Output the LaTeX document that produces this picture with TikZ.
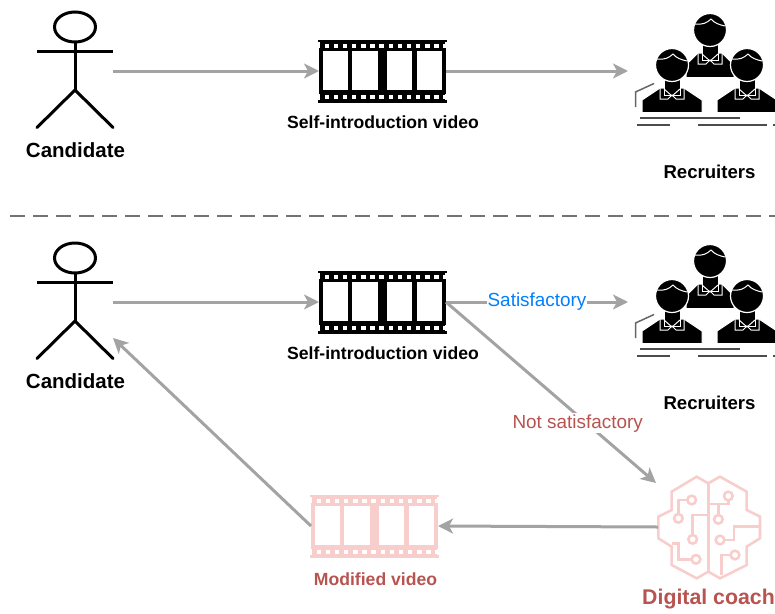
\documentclass[tikz,border=0pt]{standalone}
\usepackage{fontspec}
\setmainfont{Liberation Sans}
\usetikzlibrary{arrows.meta}
\definecolor{arrowgray}{HTML}{A3A3A3}
\definecolor{softred}{HTML}{F8CECC}
\definecolor{darkred}{HTML}{B85450}
\definecolor{bluetext}{HTML}{007FFF}
\tikzset{
  flow/.style={draw=arrowgray,line width=3pt,-{Stealth[length=15pt,width=15pt,inset=4pt]}},
  anchorbox/.style={inset sep=0pt,inner sep=0pt,outer sep=0pt,minimum width=#1},
  iconbox/.style n args={2}{inner sep=0pt,outer sep=0pt,minimum width=#1,minimum height=#2},
  labelbig/.style={font=\fontsize{20.5}{24}\selectfont\bfseries,inner sep=0pt},
  labelmid/.style={font=\fontsize{17.6}{21}\selectfont\bfseries,inner sep=0pt},
  labelrec/.style={font=\fontsize{18.6}{22}\selectfont\bfseries,inner sep=0pt},
  labelflow/.style={font=\fontsize{18.9}{22}\selectfont,fill=white,inner sep=1pt},
}
\newcommand{\actoricon}[1]{%
  \begin{scope}[shift={(0,#1)},line width=3pt,draw=black]
    \draw (75,27) ellipse (20.5 and 15);
    \draw (37,51) -- (113,51);
    \draw (75,42) -- (75,90);
    \draw[line cap=round] (37,127.5) -- (75,90) -- (113,127.5);
  \end{scope}}
\newcommand{\filmicon}[3]{%
  \begin{scope}[shift={(#1,#2)}]
    \fill[#3] (319,41) rectangle (446,101);
    \fill[#3] (318,39.5) rectangle (447,42);
    \fill[#3] (318,100) rectangle (447,102.5);
    \fill[white] (323,51) rectangle (348,90);
    \fill[white] (352,51) rectangle (378,90);
    \fill[white] (387,51) rectangle (412,90);
    \fill[white] (417,51) rectangle (442,90);
    \foreach \k in {0,...,13}{
      \fill[white] ({324.5+\k*9.15},43.5) rectangle ++(4.4,4);
      \fill[white] ({324.5+\k*9.15},95) rectangle ++(4.4,4);
    }
    \fill[white] (318,42) rectangle (320,48);
    \fill[white] (445,42) rectangle (447,48);
    \fill[white] (318,93.5) rectangle (320,100);
    \fill[white] (445,93.5) rectangle (447,100);
  \end{scope}}
\newcommand{\personicon}[3]{% cx, cy head, half width
  \begin{scope}[shift={(#1,#2)}]
    \fill[black,draw=white,line width=1pt] (-#3,47.5) -- (-#3,35) -- (-12,23) -- (12,23) -- (#3,35) -- (#3,47.5) -- cycle;
    \fill[black,draw=white,line width=1pt] (-8,10) rectangle (8,30);
    \draw[white,line width=1pt] (-12,23) -- (-12,34) -- (-4,34) -- (0,30) -- (4,34) -- (12,34) -- (12,23);
    \draw[white,line width=1pt] (-8,24) -- (0,31) -- (8,24);
    \fill[black,draw=white,line width=1.2pt] (0,0) circle (16.5);
    \draw[white,line width=1pt] (-15,-6) .. controls (-8,-5) and (-3,-7) .. (1,-11) .. controls (4,-7) and (10,-5) .. (15,-4);
  \end{scope}}
\newcommand{\recruitericon}[1]{%
  \begin{scope}[shift={(0,#1)}]
    \begin{scope}
      \clip (625,0) rectangle (775,140);
      \personicon{710}{30}{24}
      \personicon{672}{65}{30}
      \personicon{747}{65}{30}
      \draw[line width=1.5pt,black!70] (640,118) -- (740,118);
      \draw[line width=1.5pt,black!70] (637,125) -- (670,125);
      \draw[line width=1.5pt,black!70] (698,125) -- (767,125);
      \draw[line width=1.5pt,black!70] (773,125) -- (775,125);
      \draw[line width=1.5pt,black!60] (635.5,107) -- (635.5,92) -- (654,83.5);
    \end{scope}
  \end{scope}}
\newcommand{\brainicon}{%
  \begin{scope}[shift={(620,450)},x=0.3333pt,y=-0.3333pt,draw=softred,line width=2.6pt,line join=miter]
    \draw (265,100) -- (230,80) -- (155,125) -- (155,180) -- (115,200) -- (115,265) -- (155,290) -- (155,345) -- (230,385) -- (265,365) -- (300,385) -- (380,345) -- (380,290) -- (420,265) -- (420,200) -- (380,180) -- (380,125) -- (300,80) -- cycle;
    \draw (265,100) -- (265,365);
    \draw (215,150) circle (13);
    \draw (202,150) -- (175,150) -- (175,192);
    \draw (175,205) circle (13);
    \draw (218,268) circle (13);
    \draw (218,255) -- (218,195) -- (265,195);
    \draw (228,328) circle (13);
    \draw (215,328) -- (175,328) -- (175,280) -- (155,280);
    \draw (325,138) circle (13);
    \draw (325,151) -- (325,162) -- (265,162);
    \draw (295,208) circle (13);
    \draw (295,195) -- (295,162);
    \draw (300,270) circle (13);
    \draw (313,270) -- (342,270) -- (342,230) -- (420,230);
    \draw (345,315) circle (13);
    \draw (332,315) -- (305,315) -- (305,375);
  \end{scope}}
\begin{document}
\begin{tikzpicture}[x=1pt,y=-1pt]
  \useasboundingbox (0,0) rectangle (775,613);
  % icons
  \actoricon{0}
  \actoricon{231}
  \filmicon{0}{0}{black}
  \filmicon{0}{231}{black}
  \filmicon{-8}{455}{softred}
  \recruitericon{0}
  \recruitericon{231}
  \brainicon
  % anchor boxes
  \node[iconbox={76pt}{116pt}] (cand1) at (75,71) {};
  \node[iconbox={76pt}{116pt}] (cand2) at (75,302) {};
  \node[iconbox={127pt}{62pt}] (film1) at (382.5,71) {};
  \node[iconbox={127pt}{62pt}] (film2) at (382.5,302) {};
  \node[iconbox={127pt}{62pt}] (film3) at (374.5,526) {};
  \node[iconbox={147pt}{110pt}] (rec1) at (701.5,71) {};
  \node[iconbox={147pt}{110pt}] (rec2) at (701.5,302) {};
  \node[iconbox={102pt}{100pt}] (coach) at (709,527) {};
  \coordinate (coachin) at (656,483);
  \coordinate (cand2in) at (113,338);
  % divider
  \coordinate (divl) at (10,216);
  \coordinate (divr) at (775,216);
  \draw[draw=black!55,line width=2.6pt,dash pattern=on 15pt off 8pt] (divl) -- (divr);
  % labels
  \node[labelbig] (t1) at (75.5,150) {Candidate};
  \node[labelbig] (t2) at (75.5,381) {Candidate};
  \node[labelmid] (t3) at (383,122) {Self-introduction video};
  \node[labelmid] (t4) at (383,353) {Self-introduction video};
  \node[labelrec] (t5) at (709.5,172) {Recruiters};
  \node[labelrec] (t6) at (709.5,403) {Recruiters};
  \node[labelmid,text=darkred] (t7) at (375.5,579) {Modified video};
  \node[font=\fontsize{21.3}{25}\selectfont\bfseries,inner sep=0pt,text=darkred] (t8) at (708.5,599) {Digital coach};
  % connectors
  \draw[flow] (cand1.east) -- (film1.west);
  \draw[flow] (film1.east) -- (rec1.west);
  \draw[flow] (cand2.east) -- (film2.west);
  \draw[flow] (film2.east) -- node[labelflow,text=bluetext] (sat) {Satisfactory} (rec2.west);
  \draw[flow] (film2.east) -- node[pos=0.67,xshift=-9pt,labelflow,text=darkred] (nsat) {Not satisfactory} (coachin);
  \draw[flow] (coach.west) -- (film3.east);
  \draw[flow] (film3.west) -- (cand2in);
\end{tikzpicture}
\end{document}
